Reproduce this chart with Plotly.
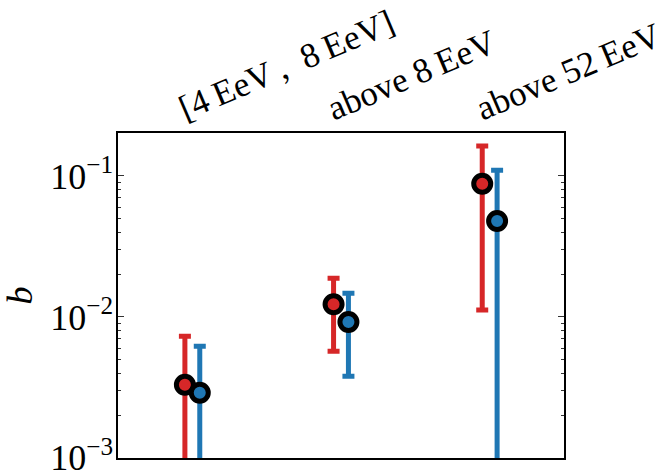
import numpy as np
import plotly.graph_objects as go

categories = ["[4\u2009EeV\u2009,  8\u2009EeV]", "above 8\u2009EeV", "above 52\u2009EeV"]

red_vals = [3.3e-3, 1.23e-2, 8.8e-2]
red_hi = [7.3e-3, 1.88e-2, 0.163]
red_lo = [1e-4, 5.7e-3, 1.12e-2]

blue_vals = [2.9e-3, 9.2e-3, 4.8e-2]
blue_hi = [6.2e-3, 1.47e-2, 0.110]
blue_lo = [1e-4, 3.8e-3, 1e-4]

ytick_vals = [1e-3, 1e-2, 1e-1]
ytick_text = ["10<sup>\u22123</sup>", "10<sup>\u22122</sup>", "10<sup>\u22121</sup>"]

RED = "#d62728"
BLUE = "#1f77b4"
FONT = "Liberation Serif"

pos = np.arange(len(categories), dtype=float)
off = 0.05

fig = go.Figure()
for vals, hi, lo, col, sgn in [(red_vals, red_hi, red_lo, RED, -1), (blue_vals, blue_hi, blue_lo, BLUE, 1)]:
    v = np.array(vals)
    fig.add_trace(go.Scatter(
        x=pos + sgn * off, y=v, mode="markers",
        marker=dict(size=17, color=col, line=dict(color="black", width=5)),
        error_y=dict(type="data", symmetric=False,
                     array=np.array(hi) - v, arrayminus=v - np.array(lo),
                     color=col, thickness=5, width=6),
        showlegend=False,
    ))

minor_vals = [m * 10.0 ** e for e in (-3, -2, -1) for m in range(2, 10)]

fig.update_layout(
    width=662, height=471,
    margin=dict(l=118, r=98, t=133, b=13),
    paper_bgcolor="white", plot_bgcolor="white",
    font=dict(family=FONT, size=30, color="black"),
    xaxis=dict(range=[-0.5, 2.5], side="top", tickvals=pos, ticktext=categories,
               tickangle=-23, ticks="", ticklabelshift=-14, ticklabelstandoff=-5,
               showline=True, linecolor="black", linewidth=1.5,
               mirror=True, showgrid=False, zeroline=False, automargin=False,
               ticklabeloverflow="allow",
               tickfont=dict(family=FONT, size=35)),
    yaxis=dict(type="log", range=[-3.0008, np.log10(0.2018)], tickvals=ytick_vals, ticktext=ytick_text,
               ticks="inside", ticklen=6, tickwidth=1, tickcolor="#333",
               minor=dict(tickvals=minor_vals, ticks="inside", ticklen=3, tickwidth=1, tickcolor="#333"),
               showline=True, linecolor="black", linewidth=1.5, mirror="ticks",
               showgrid=False, zeroline=False, automargin=False,
               ticklabeloverflow="allow", ticklabelstandoff=-4,
               tickfont=dict(family=FONT, size=36),
               title=dict(text="<i>b</i>", font=dict(family=FONT, size=36), standoff=10)),
)

fig.write_html("out.html", config={"displayModeBar": False},
               post_script="document.body.style.margin='0';document.body.style.padding='0';")
